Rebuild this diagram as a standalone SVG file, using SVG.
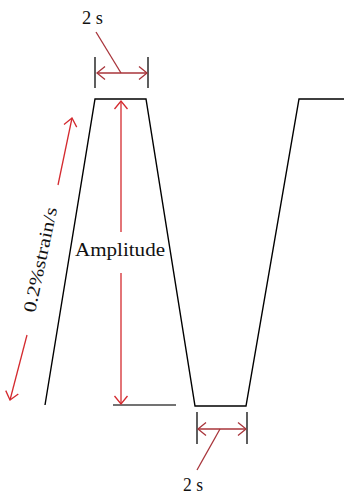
<svg xmlns="http://www.w3.org/2000/svg" width="344" height="496" viewBox="0 0 344 496">
<style>
.wave{fill:none;stroke:#000;stroke-width:1.4;stroke-linejoin:miter}
.tick{stroke:#1a1a1a;stroke-width:1.4}
.red{fill:none;stroke:#d42a2f;stroke-width:1.3}
.dred{fill:none;stroke:#a8343a;stroke-width:1.3}
.lbl{font-family:"Liberation Serif",serif;fill:#111}
</style>
<defs>
<marker id="hr" viewBox="-10 -8 12 16" markerWidth="12" markerHeight="16" refX="0" refY="0" orient="auto-start-reverse" markerUnits="userSpaceOnUse">
<path d="M-8,-6.5 L0,0 L-8,6.5" fill="none" stroke="#d42a2f" stroke-width="1.3"/>
</marker>
<marker id="hd" viewBox="-10 -8 12 16" markerWidth="12" markerHeight="16" refX="0" refY="0" orient="auto-start-reverse" markerUnits="userSpaceOnUse">
<path d="M-8,-6.5 L0,0 L-8,6.5" fill="none" stroke="#a8343a" stroke-width="1.3"/>
</marker>
</defs>
<g id="waveform">
<polyline class="wave" points="45,405 95,99 146,99 195,406 246,406 299,99 344,99"/>
<line x1="113" y1="405" x2="176" y2="405" stroke="#444" stroke-width="1.5"/>
</g>
<g id="connectors">
<line class="tick" x1="95" y1="57" x2="95" y2="88"/>
<line class="tick" x1="148" y1="57" x2="148" y2="88"/>
<line class="dred" x1="97" y1="73" x2="147" y2="73" marker-start="url(#hd)" marker-end="url(#hd)"/>
<line class="dred" x1="96" y1="32" x2="121" y2="73"/>
<line class="tick" x1="197" y1="412" x2="197" y2="444"/>
<line class="tick" x1="247" y1="412" x2="247" y2="444"/>
<line class="dred" x1="198" y1="429" x2="246" y2="429" marker-start="url(#hd)" marker-end="url(#hd)"/>
<line class="dred" x1="220" y1="429" x2="197" y2="470"/>
<line class="red" x1="121" y1="232" x2="121" y2="101" marker-end="url(#hr)"/>
<line class="red" x1="121" y1="273" x2="121" y2="404" marker-end="url(#hr)"/>
<line class="red" x1="58" y1="185" x2="72" y2="118" marker-end="url(#hr)"/>
<line class="red" x1="27" y1="335" x2="10" y2="400" marker-end="url(#hr)"/>
</g>
<g id="labels">
<text class="lbl" x="92.5" y="24" font-size="19" text-anchor="middle" textLength="21" lengthAdjust="spacingAndGlyphs">2 s</text>
<text class="lbl" x="193" y="491" font-size="19" text-anchor="middle" textLength="20" lengthAdjust="spacingAndGlyphs">2 s</text>
<text class="lbl" x="120" y="256" font-size="19" text-anchor="middle" textLength="90" lengthAdjust="spacingAndGlyphs">Amplitude</text>
<text class="lbl" transform="translate(46,261) rotate(-78)" x="0" y="0" font-size="18" text-anchor="middle" textLength="107" lengthAdjust="spacingAndGlyphs">0.2%strain/s</text>
</g>
</svg>
